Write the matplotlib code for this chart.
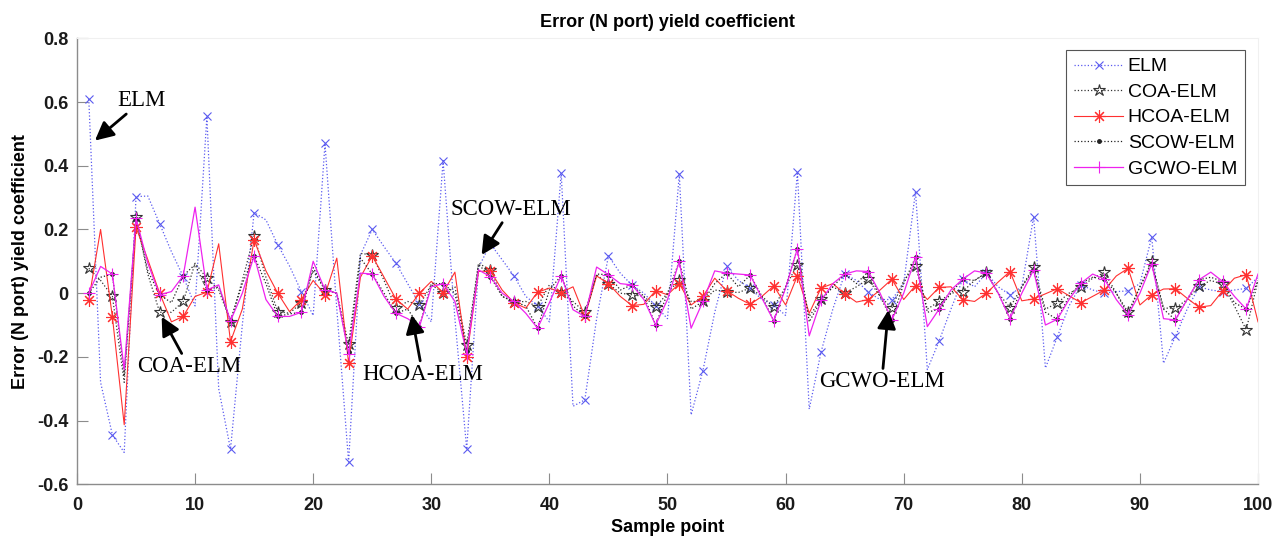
# Error curves of the five ELM models over 100 sample points

import matplotlib.pyplot as plt
import numpy as np

sample = np.arange(1, 101)

elm = [0.61, -0.28, -0.445, -0.5, 0.303, 0.305, 0.218, 0.13, 0.052, -0.04,
       0.555, -0.3, -0.49, -0.1, 0.253, 0.23, 0.152, 0.085, 0.005, -0.07,
       0.47, -0.05, -0.53, 0.12, 0.2, 0.146, 0.094, 0.03, -0.035, -0.09,
       0.416, -0.08, -0.49, 0.08, 0.155, 0.105, 0.054, -0.01, -0.04, -0.09,
       0.377, -0.355, -0.335, -0.08, 0.117, 0.063, 0.025, 0.0, -0.04, -0.08,
       0.374, -0.382, -0.243, -0.06, 0.084, 0.04, 0.016, -0.02, -0.037, -0.07,
       0.38, -0.364, -0.185, -0.05, 0.06, 0.04, 0.003, -0.02, -0.02, 0.03,
       0.319, -0.24, -0.15, -0.05, 0.044, 0.02, 0.063, 0.02, -0.005, 0.02,
       0.24, -0.235, -0.138, -0.04, 0.026, 0.01, 0.0, 0.005, 0.007, 0.03,
       0.176, -0.22, -0.136, -0.05, 0.02, 0.01, 0.005, 0.01, 0.015, 0.05]

coa = [0.078, 0.04, -0.01, -0.28, 0.238, 0.06, -0.06, -0.06, -0.026, 0.094,
       0.047, 0.01, -0.09, 0.04, 0.18, 0.05, -0.058, -0.063, -0.03, 0.07,
       0.01, 0.0, -0.16, 0.125, 0.12, 0.04, -0.047, -0.026, -0.037, 0.026,
       0.002, 0.02, -0.162, 0.094, 0.073, -0.01, -0.028, -0.026, -0.042, 0.026,
       0.005, -0.026, -0.06, 0.057, 0.03, 0.0, -0.005, -0.01, -0.044, 0.0,
       0.042, -0.026, -0.026, 0.01, 0.005, 0.002, 0.016, -0.01, -0.044, 0.02,
       0.09, -0.073, -0.019, 0.02, 0.0, 0.02, 0.044, -0.01, -0.047, 0.04,
       0.084, -0.05, -0.026, 0.0, 0.005, 0.04, 0.065, 0.0, -0.045, 0.02,
       0.082, -0.05, -0.031, 0.0, 0.018, 0.047, 0.065, 0.0, -0.06, 0.02,
       0.1, -0.047, -0.047, -0.02, 0.021, 0.04, 0.028, -0.04, -0.115, 0.04]

hcoa = [-0.021, 0.2, -0.075, -0.413, 0.207, 0.105, 0.0, -0.09, -0.073, -0.01,
        0.003, 0.155, -0.152, -0.05, 0.167, 0.07, 0.0, -0.058, -0.02, 0.04,
        -0.005, 0.11, -0.22, 0.05, 0.117, 0.05, -0.018, -0.05, 0.0, 0.037,
        0.002, 0.066, -0.2, 0.068, 0.07, 0.01, -0.03, -0.047, 0.003, 0.016,
        0.002, 0.02, -0.073, 0.054, 0.03, -0.01, -0.039, -0.035, 0.008, -0.005,
        0.03, -0.037, -0.01, 0.047, 0.008, -0.016, -0.035, -0.01, 0.023, -0.037,
        0.055, -0.063, 0.016, 0.03, -0.002, -0.028, -0.02, 0.01, 0.044, -0.02,
        0.024, -0.02, 0.018, 0.02, -0.02, -0.026, 0.0, 0.035, 0.068, -0.024,
        -0.018, -0.002, 0.014, -0.008, -0.03, -0.01, 0.01, 0.054, 0.078, -0.037,
        -0.005, 0.013, 0.014, -0.016, -0.044, -0.039, 0.007, 0.047, 0.058, -0.09]

scow = [0.0, 0.05, 0.06, -0.26, 0.233, 0.07, -0.005, -0.03, 0.055, 0.09,
        0.01, 0.02, -0.087, 0.03, 0.117, 0.03, -0.073, -0.065, -0.06, 0.08,
        0.01, 0.0, -0.185, 0.11, 0.06, 0.0, -0.063, -0.05, -0.105, 0.03,
        0.03, 0.0, -0.18, 0.09, 0.052, -0.01, -0.026, -0.04, -0.11, 0.01,
        0.055, -0.04, -0.073, 0.06, 0.058, 0.01, 0.026, -0.01, -0.1, 0.0,
        0.1, -0.05, -0.026, 0.03, 0.063, 0.02, 0.057, -0.01, -0.087, 0.02,
        0.14, -0.09, -0.023, 0.02, 0.06, 0.03, 0.068, -0.01, -0.084, 0.03,
        0.113, -0.06, -0.05, 0.0, 0.044, 0.04, 0.063, 0.0, -0.08, 0.02,
        0.073, -0.06, -0.082, -0.01, 0.031, 0.05, 0.044, 0.0, -0.068, 0.02,
        0.092, -0.05, -0.084, -0.02, 0.042, 0.05, 0.037, -0.03, -0.05, 0.04]

gcwo = [0.0, 0.084, 0.06, -0.24, 0.235, 0.094, -0.005, 0.005, 0.055, 0.27,
        0.01, 0.026, -0.087, 0.0, 0.117, -0.02, -0.073, -0.073, -0.06, 0.1,
        0.01, 0.0, -0.19, 0.063, 0.06, -0.01, -0.063, -0.08, -0.105, 0.02,
        0.03, -0.026, -0.19, 0.073, 0.052, 0.0, -0.026, -0.063, -0.11, -0.03,
        0.055, -0.052, -0.073, 0.082, 0.058, 0.03, 0.026, -0.02, -0.1, -0.02,
        0.1, -0.11, -0.026, 0.07, 0.063, 0.06, 0.057, -0.016, -0.087, 0.016,
        0.14, -0.134, -0.023, 0.03, 0.06, 0.07, 0.068, 0.0, -0.084, 0.0,
        0.113, -0.105, -0.05, 0.01, 0.044, 0.07, 0.063, 0.0, -0.08, 0.0,
        0.073, -0.1, -0.082, -0.02, 0.031, 0.06, 0.044, -0.02, -0.068, 0.0,
        0.092, -0.08, -0.084, -0.02, 0.042, 0.066, 0.037, -0.01, -0.05, 0.06]

labels = ["ELM", "COA-ELM", "HCOA-ELM", "SCOW-ELM", "GCWO-ELM"]
yticks = [-0.6, -0.4, -0.2, 0, 0.2, 0.4, 0.6, 0.8]
ytick_labels = ["-0.6", "-0.4", "-0.2", "0", "0.2", "0.4", "0.6", "0.8"]

font_size = 13
plt.rcParams['font.family'] = ['Liberation Sans', 'DejaVu Sans']

fig = plt.figure(figsize=(12.85, 5.46), dpi=100)
ax = fig.add_axes([0.0599, 0.1130, 0.9191, 0.8168])

every = slice(0, None, 2)
ax.plot(sample, elm, color="#5a5af0", linestyle=":", lw=0.9, marker="x",
        ms=6, mew=0.8, markevery=every, label=labels[0])
ax.plot(sample, coa, color="#333333", linestyle=":", lw=0.9, marker="*",
        ms=9, mew=0.8, mfc="none", markevery=every, label=labels[1])
ax.plot(sample, hcoa, color="#ff3030", linestyle="-", lw=0.8, marker=(8, 2, 0),
        ms=9, mew=0.8, markevery=every, label=labels[2])
ax.plot(sample, scow, color="#222222", linestyle=":", lw=0.9, marker=".",
        ms=5, markevery=every, label=labels[3])
ax.plot(sample, gcwo, color="#ee22ee", linestyle="-", lw=0.9, marker="+",
        ms=9, mew=0.8, markevery=every, label=labels[4])

ax.set_xlim(0, 100)
ax.set_ylim(-0.6, 0.8)
ax.set_xticks(np.arange(0, 101, 10))
ax.set_yticks(yticks)
ax.set_yticklabels(ytick_labels)
ax.tick_params(direction="in", length=8, width=0.8, color="#8c8c8c",
               labelsize=font_size, labelcolor="#1a1a1a")
ax.tick_params(axis="x", pad=9)
ax.tick_params(axis="y", pad=6)
for lab in ax.get_xticklabels() + ax.get_yticklabels():
    lab.set_fontweight("bold")

for side in ["left", "bottom"]:
    ax.spines[side].set_color("#8c8c8c")
    ax.spines[side].set_linewidth(1.0)
for side in ["top", "right"]:
    ax.spines[side].set_color("#f0f0f0")

ax.set_title("Error (N port) yield coefficient", fontsize=font_size,
             fontweight="bold", pad=8)
ax.set_xlabel("Sample point", fontsize=font_size, fontweight="bold", labelpad=4)
ax.set_ylabel("Error (N port) yield coefficient", fontsize=font_size,
              fontweight="bold", labelpad=6)

leg = ax.legend(loc="upper right", bbox_to_anchor=(0.989, 0.974),
                borderaxespad=0, fontsize=14, handlelength=2.5,
                handletextpad=0.26, labelspacing=0.41, borderpad=0.4,
                fancybox=False, framealpha=1, edgecolor="#555555")
leg.get_frame().set_linewidth(0.8)

# text labels with arrows
notes = [("ELM", 5.5, 0.604, 1.52, 0.479),
         ("COA-ELM", 9.48, -0.231, 7.17, -0.074),
         ("HCOA-ELM", 29.27, -0.254, 28.34, -0.068),
         ("SCOW-ELM", 36.72, 0.263, 34.26, 0.12),
         ("GCWO-ELM", 68.14, -0.278, 68.7, -0.053)]
for txt, tx, ty, px, py in notes:
    ax.annotate(txt, xy=(px, py), xytext=(tx, ty), ha="center", va="center",
                fontsize=16.5, family=["Liberation Serif", "DejaVu Serif"],
                arrowprops=dict(arrowstyle="-|>", color="black", lw=2,
                                mutation_scale=28, shrinkA=0, shrinkB=0))

plt.savefig("out.png", dpi=100)
